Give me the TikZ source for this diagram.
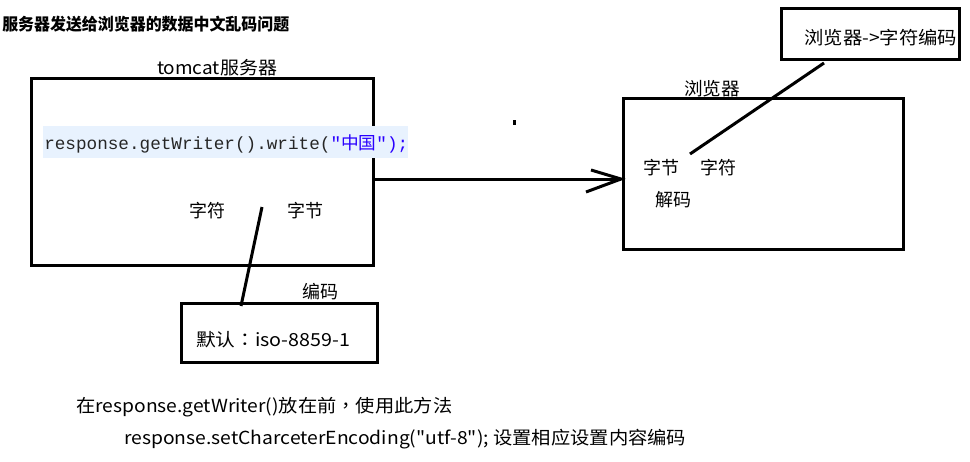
\documentclass[tikz,border=0pt]{standalone}
\usepackage{fontspec}
\usepackage{graphicx}
\setmainfont{Noto Sans CJK SC}[Ligatures=TeXOff]
\newfontfamily\monof{Liberation Mono}[Ligatures=TeXOff]
\newfontfamily\cjkf{Noto Sans CJK SC}[Ligatures=TeXOff]
\newfontfamily\tcf{Noto Sans CJK TC}[Ligatures=TeXOff]
\definecolor{hlbg}{HTML}{E8F2FE}
\definecolor{strblue}{HTML}{2A00FF}
\newsavebox\fitbox
\newcommand\fitw[2]{\sbox\fitbox{#2}\pgfmathsetmacro\fitr{#1*0.75/\the\wd\fitbox}\scalebox{\fitr}[1]{\usebox\fitbox}}
\tikzset{
  boxst/.style={draw, line width=2.25pt, inner sep=0pt},
  lbl/.style={inner sep=0pt, font=\fontsize{13.5pt}{16pt}\selectfont},
  wire/.style={line width=2.25pt}
}
\begin{document}
\begin{tikzpicture}[x=0.75pt, y=-0.75pt]
\useasboundingbox (0,0) rectangle (970,461);
% title
\node[inner sep=0pt, anchor=west, font=\fontsize{12.5pt}{14pt}\selectfont\bfseries] (title) at (2,24) {\fitw{287}{服务器发送给浏览器的数据中文乱码问题}};
% tomcat box
\node[boxst, minimum width=342*0.75pt, minimum height=187*0.75pt] (tomcat) at (202,171.5) {};
\node[lbl] (tomcatlbl) at (217,68) {\fitw{120}{tomcat服务器}};
\node[fill=hlbg, inner sep=0pt, minimum width=365*0.75pt, minimum height=32*0.75pt] (hl) at (225.5,142) {};
\node[inner sep=0pt, anchor=west, font=\fontsize{13.2pt}{16pt}\selectfont] (code) at (44,144) {\fitw{364}{\monof\color{black!85}response.getWriter().write(\color{strblue}"{\cjkf 中国}");}};
\node[lbl] (zf1) at (207,211) {字符};
\node[lbl] (zj1) at (305,211) {字节};
% encoding box
\node[lbl] (bm) at (320,292) {编码};
\node[boxst, minimum width=196*0.75pt, minimum height=59*0.75pt] (def) at (279,333) {};
\node[lbl, anchor=west] (deftxt) at (196,340) {\fitw{154}{默认{\tcf ：}iso-8859-1}};
\coordinate (l1a) at (262,207);
\coordinate (l1b) at (241,306);
\draw[wire] (l1a) -- (l1b);
% browser box
\node[boxst, minimum width=280*0.75pt, minimum height=151*0.75pt] (br) at (763,173.5) {};
\node[lbl] (brlbl) at (712,89) {\fitw{56}{浏览器}};
\node[lbl] (zj2) at (661,168) {字节};
\node[lbl] (zf2) at (718,168) {字符};
\node[lbl] (jm) at (673,200) {解码};
% top-right box
\node[boxst, minimum width=178*0.75pt, minimum height=51*0.75pt] (enc) at (870,33.5) {};
\node[lbl, anchor=west] (enctxt) at (804,38) {\fitw{153}{浏览器->字符编码}};
\coordinate (l2a) at (824,63);
\coordinate (l2b) at (690,154);
\draw[wire] (l2a) -- (l2b);
% arrow
\coordinate (atip) at (621,179);
\coordinate (ah1) at (591,170);
\coordinate (ah2) at (586,192);
\draw[wire] (tomcat.east |- atip) -- (atip);
\draw[wire] (ah1) -- (atip) -- (ah2);
% stray dot
\fill (513,120) rectangle (516,125);
% bottom notes
\node[lbl, anchor=west] (n1) at (76,407) {\fitw{376}{在response.getWriter()放在前{\tcf ，}使用此方法}};
\node[lbl, anchor=west] (n2) at (124,439) {\fitw{562}{response.setCharceterEncoding("utf-8"); 设置相应设置内容编码}};
\end{tikzpicture}
\end{document}
